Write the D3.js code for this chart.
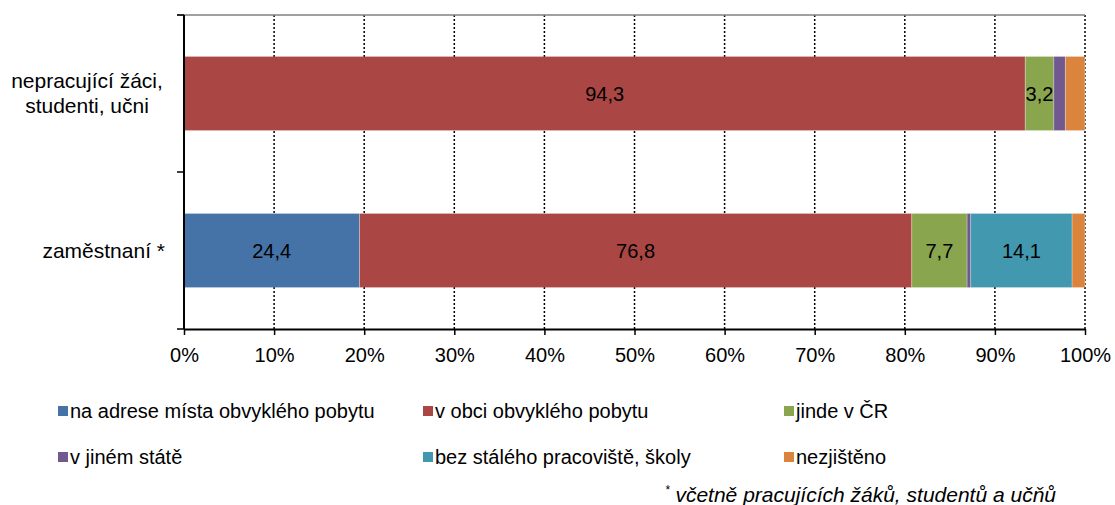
<!DOCTYPE html>
<html><head><meta charset="utf-8">
<script src="https://cdn.jsdelivr.net/npm/d3@7"></script>
<style>body{margin:0;background:#fff;} svg text{font-family:"Liberation Sans",Arial,sans-serif;}</style>
</head><body>
<svg id="c" width="1115" height="505"></svg>
<script>
const categories = ["nepracující žáci, studenti, učni", "zaměstnaní *"];
const seriesNames = ["na adrese místa obvyklého pobytu", "v obci obvyklého pobytu", "jinde v ČR", "v jiném státě", "bez stálého pracoviště, školy", "nezjištěno"];
const seriesColors = ["#4572A7", "#AA4643", "#89A54E", "#71588F", "#4198AF", "#DB843D"];
const valuesNepracujici = [0, 94.3, 3.2, 1.3, 0, 2.2];
const valuesZamestnani = [24.4, 76.8, 7.7, 0.5, 14.1, 1.8];
const showLabel = [[false, true, true, false, false, false], [true, true, true, false, true, false]];
const xTicks = [0, 0.1, 0.2, 0.3, 0.4, 0.5, 0.6, 0.7, 0.8, 0.9, 1];

const rows = [valuesNepracujici, valuesZamestnani].map((v, i) => {
  const o = {cat: categories[i]};
  seriesNames.forEach((s, j) => o[s] = v[j]);
  return o;
});
const stack = d3.stack().keys(seriesNames).offset(d3.stackOffsetExpand);
const layers = stack(rows);

const svg = d3.select("#c");
const L = 184, R = 1085, T = 15, B = 329;
const x = d3.scaleLinear().domain([0, 1]).range([L, R]);
const y = d3.scaleBand().domain(categories).range([T, B]).paddingInner(0.53).paddingOuter(0.265);
const fmt = v => d3.format(".1f")(v).replace(".", ",");
const FS = 20;

// gridlines
svg.append("g").selectAll("line").data(xTicks.slice(1)).join("line")
  .attr("x1", d => x(d)).attr("x2", d => x(d)).attr("y1", T).attr("y2", B)
  .attr("stroke", "#000").attr("stroke-width", 1.5).attr("stroke-dasharray", "2,2");
// top border
svg.append("line").attr("x1", L - 7).attr("x2", R).attr("y1", T).attr("y2", T)
  .attr("stroke", "#808080").attr("stroke-width", 1.5);

// bars
layers.forEach((layer, j) => {
  svg.append("g").selectAll("rect").data(layer).join("rect")
    .attr("x", d => x(d[0])).attr("width", d => x(d[1]) - x(d[0]))
    .attr("y", d => y(d.data.cat)).attr("height", y.bandwidth())
    .attr("fill", seriesColors[j]);
});
// thin separators between segments
layers.forEach(layer => {
  svg.append("g").selectAll("line").data(layer.filter(d => d[1] - d[0] > 0)).join("line")
    .attr("x1", d => x(d[1])).attr("x2", d => x(d[1]))
    .attr("y1", d => y(d.data.cat)).attr("y2", d => y(d.data.cat) + y.bandwidth())
    .attr("stroke", "#fff").attr("stroke-opacity", 0.35).attr("stroke-width", 1);
});
layers.forEach((layer, j) => {
  svg.append("g").selectAll("text").data(layer.filter((d, i) => showLabel[i][j])).join("text")
    .attr("x", d => (x(d[0]) + x(d[1])) / 2)
    .attr("y", d => y(d.data.cat) + y.bandwidth() / 2 + 7)
    .attr("text-anchor", "middle").attr("font-size", FS).attr("fill", "#000")
    .text(d => fmt(d.data[seriesNames[j]]));
});

// x axis
const xAxis = d3.axisBottom(x).tickValues(xTicks).tickFormat(d => Math.round(d * 100) + "%").tickSize(6).tickSizeOuter(0);
const gx = svg.append("g").attr("transform", `translate(0,${B})`).call(xAxis);
gx.select(".domain").attr("stroke", "#000").attr("stroke-width", 2);
gx.selectAll(".tick line").attr("stroke", "#000").attr("stroke-width", 1.5);
gx.selectAll(".tick text").attr("font-size", FS).attr("font-family", "Liberation Sans, Arial, sans-serif")
  .attr("fill", "#000").attr("y", 33).attr("dy", 0);

// y axis
svg.append("line").attr("x1", L).attr("x2", L).attr("y1", T).attr("y2", B).attr("stroke", "#000").attr("stroke-width", 2);
const boundaries = [T, (y(categories[0]) + y.bandwidth() + y(categories[1])) / 2, B];
svg.append("g").selectAll("line").data(boundaries).join("line")
  .attr("x1", L - 7).attr("x2", L).attr("y1", d => d).attr("y2", d => d).attr("stroke", "#000").attr("stroke-width", 1.5);
// category labels
const catLines = [["nepracující žáci,", "studenti, učni"], ["zaměstnaní *"]];
categories.forEach((c, i) => {
  const cy = y(c) + y.bandwidth() / 2;
  const lines = catLines[i];
  const multi = lines.length > 1;
  const t = svg.append("text").attr("text-anchor", multi ? "middle" : "end").attr("font-size", 21).attr("fill", "#000");
  lines.forEach((ln, k) => {
    t.append("tspan").attr("x", multi ? 87 : 165).attr("y", cy + 7 + (k - (lines.length - 1) / 2) * 25).text(ln);
  });
});

// legend
const legX = [58, 423, 784], legY = [411, 457];
seriesNames.forEach((s, j) => {
  const gx0 = legX[j % 3], gy0 = legY[Math.floor(j / 3)];
  svg.append("rect").attr("x", gx0).attr("y", gy0 - 5).attr("width", 10).attr("height", 10).attr("fill", seriesColors[j]);
  svg.append("text").attr("x", gx0 + 12).attr("y", gy0 + 7).attr("font-size", 20).attr("fill", "#000").text(s);
});

// footnote
const fn = svg.append("text").attr("x", 1056).attr("y", 502).attr("text-anchor", "end")
  .attr("font-size", 21).attr("font-style", "italic").attr("fill", "#000");
fn.append("tspan").attr("font-size", 12).attr("dy", -8).text("*");
fn.append("tspan").attr("dy", 8).text(" včetně pracujících žáků, studentů a učňů");
</script>
</body></html>
